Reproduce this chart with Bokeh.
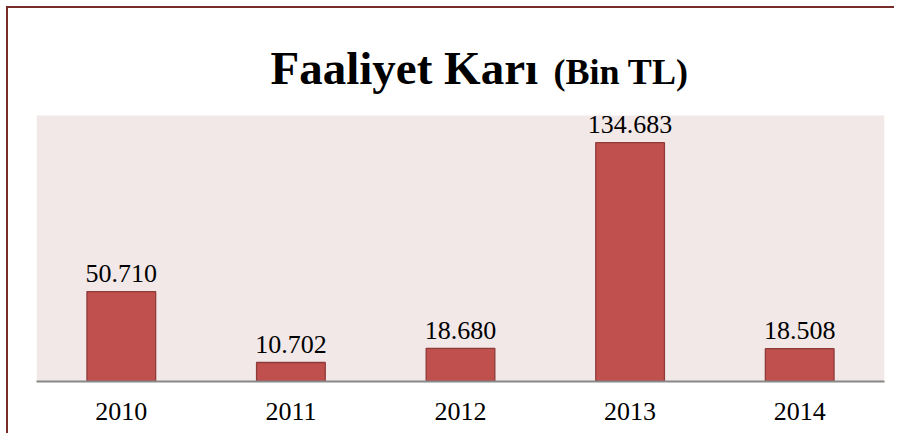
from bokeh.plotting import figure
from bokeh.models import ColumnDataSource, Label, FactorRange, Range1d, BoxAnnotation
from bokeh.core.properties import value
from bokeh.embed import file_html
from bokeh.resources import INLINE

years = ["2010", "2011", "2012", "2013", "2014"]
profit = [50710, 10702, 18680, 134683, 18508]
labels = ["{:,}".format(v).replace(",", ".") for v in profit]
y_max = 150000  # top of the shaded value area

FONT = "Liberation Serif"

# frame geometry: shaded value area is 266px tall, frame extends above it for the title
AREA_H = 266
FRAME_H = 351
y_end = y_max * FRAME_H / AREA_H

src = ColumnDataSource(dict(year=years, profit=profit, label=labels))

p = figure(x_range=FactorRange(*years, range_padding=0), y_range=Range1d(0, y_end),
           width=888, height=427, output_backend="svg", toolbar_location=None,
           min_border_left=28, min_border_right=12, min_border_top=22, min_border_bottom=54)
p.styles = {"border-top": "2px solid #772c2a", "border-left": "2px solid #772c2a",
            "box-sizing": "border-box", "margin-left": "6px", "margin-top": "6px"}

p.background_fill_color = "white"
p.border_fill_color = "white"
p.outline_line_color = None
p.xgrid.grid_line_color = None
p.ygrid.grid_line_color = None
p.yaxis.visible = False

p.add_layout(BoxAnnotation(bottom=0, top=y_max, fill_color="#F2E8E8", fill_alpha=1.0,
                           line_color=None, level="underlay"))

p.vbar(x="year", top="profit", width=0.405, source=src,
       fill_color="#C0504D", line_color="#8E3B39", line_width=1.3)

p.text(x="year", y="profit", text="label", source=src, text_align="center",
       text_baseline="alphabetic", y_offset=-18, text_font=value(FONT),
       text_font_size="26px", text_color="black")

ax = p.xaxis[0]
ax.axis_line_color = "#888888"
ax.axis_line_width = 2
ax.major_tick_line_color = None
ax.minor_tick_line_color = None
ax.major_tick_out = 0
ax.major_label_standoff = 21
ax.major_label_text_font = FONT
ax.major_label_text_font_size = "26px"
ax.major_label_text_color = "black"

p.add_layout(Label(x=234, y=314, x_units="screen", y_units="screen", text="Faaliyet Karı",
                   text_font=FONT, text_font_style="bold", text_font_size="47px",
                   text_baseline="alphabetic", text_color="black"))
p.add_layout(Label(x=517, y=310, x_units="screen", y_units="screen", text="(Bin TL)",
                   text_font=FONT, text_font_style="bold", text_font_size="36px",
                   text_baseline="alphabetic", text_color="black"))

open("out.html", "w").write(file_html(p, INLINE))
